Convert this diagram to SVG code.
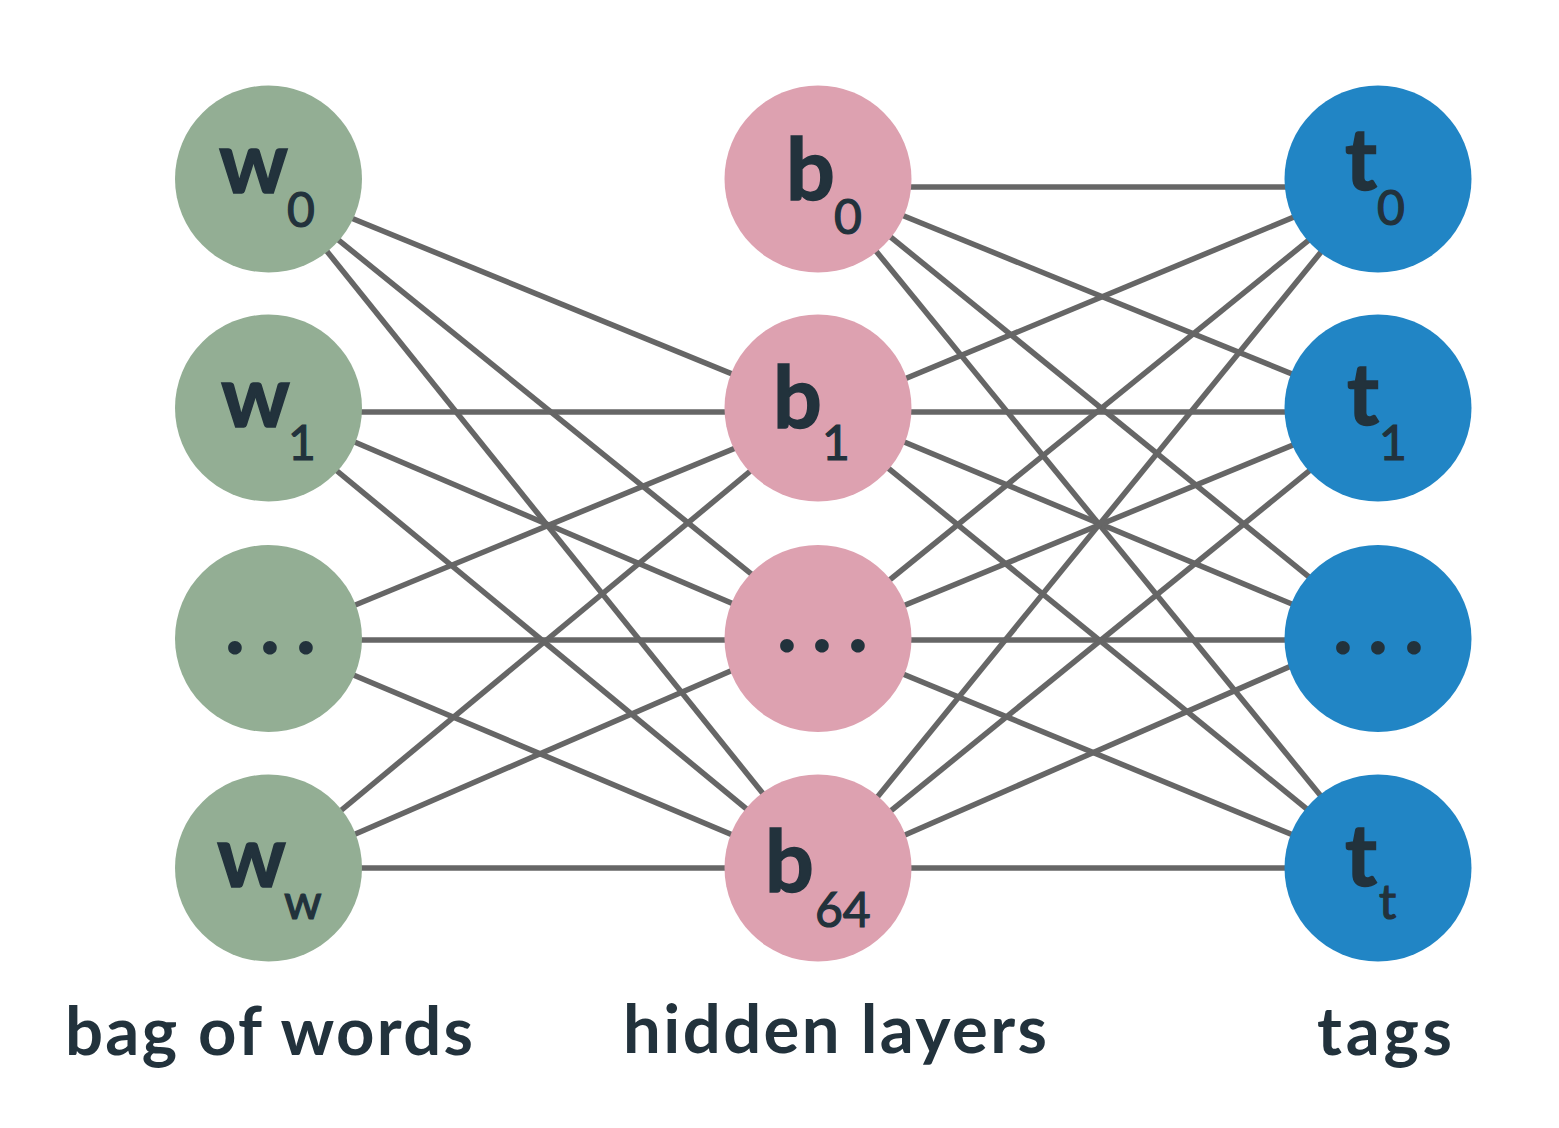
<svg xmlns="http://www.w3.org/2000/svg" width="1559" height="1128" viewBox="0 0 1559 1128">
<style>
.edge{stroke:#666666;stroke-width:5.5;fill:none}
.w{fill:#93AE94}
.b{fill:#DDA1B0}
.t{fill:#2185C5}
.main{font-family:Lato,"Liberation Sans",sans-serif;font-weight:bold;font-size:86px;fill:#22323C;stroke:#22323C;stroke-width:1.5}
.sub{font-family:Lato,"Liberation Sans",sans-serif;font-weight:normal;font-size:48px;fill:#22323C;stroke:#22323C;stroke-width:1.2}
.dots{font-family:Lato,"Liberation Sans",sans-serif;font-weight:bold;font-size:90px;fill:#22323C;text-anchor:middle}
.label{font-family:Lato,"Liberation Sans",sans-serif;font-weight:bold;font-size:67px;fill:#22323C}
</style>
<rect width="1559" height="1128" fill="#FFFFFF"/>
<g id="connectors">
<line class="edge" x1="268" y1="184" x2="818" y2="409"/>
<line class="edge" x1="268" y1="183" x2="818" y2="628"/>
<line class="edge" x1="268" y1="178" x2="818" y2="862"/>
<line class="edge" x1="268" y1="412" x2="818" y2="412"/>
<line class="edge" x1="268" y1="405" x2="818" y2="640"/>
<line class="edge" x1="268" y1="414" x2="818" y2="868"/>
<line class="edge" x1="268" y1="641" x2="818" y2="414"/>
<line class="edge" x1="268" y1="640" x2="818" y2="640"/>
<line class="edge" x1="268" y1="639" x2="818" y2="871"/>
<line class="edge" x1="268" y1="871" x2="818" y2="415"/>
<line class="edge" x1="268" y1="872" x2="818" y2="633"/>
<line class="edge" x1="268" y1="868" x2="818" y2="868"/>
<line class="edge" x1="818" y1="187" x2="1378" y2="187"/>
<line class="edge" x1="818" y1="181" x2="1378" y2="409"/>
<line class="edge" x1="818" y1="178" x2="1378" y2="633"/>
<line class="edge" x1="818" y1="180" x2="1378" y2="866"/>
<line class="edge" x1="818" y1="415" x2="1378" y2="182"/>
<line class="edge" x1="818" y1="412" x2="1378" y2="412"/>
<line class="edge" x1="818" y1="406" x2="1378" y2="640"/>
<line class="edge" x1="818" y1="411" x2="1378" y2="867"/>
<line class="edge" x1="818" y1="638" x2="1378" y2="184"/>
<line class="edge" x1="818" y1="641" x2="1378" y2="410"/>
<line class="edge" x1="818" y1="640" x2="1378" y2="640"/>
<line class="edge" x1="818" y1="639" x2="1378" y2="870"/>
<line class="edge" x1="818" y1="870" x2="1378" y2="182"/>
<line class="edge" x1="818" y1="870" x2="1378" y2="415"/>
<line class="edge" x1="818" y1="873" x2="1378" y2="628"/>
<line class="edge" x1="818" y1="868" x2="1378" y2="868"/>
</g>
<g id="w0"><circle class="w" cx="268.5" cy="179" r="93.5"/><text class="main" x="219" y="193">w</text><text class="sub" x="287" y="227">0</text></g>
<g id="w1"><circle class="w" cx="268.5" cy="408" r="93.5"/><text class="main" x="221" y="427">w</text><text class="sub" x="288" y="460">1</text></g>
<g id="w_dots"><circle class="w" cx="268.5" cy="638.5" r="93.5"/><text class="dots" x="235 270 306" y="654">...</text></g>
<g id="ww"><circle class="w" cx="268.5" cy="868" r="93.5"/><text class="main" x="217" y="887">w</text><text class="sub" x="284" y="919">w</text></g>
<g id="b0"><circle class="b" cx="818" cy="179" r="93.5"/><text class="main" x="786" y="200">b</text><text class="sub" x="834" y="234">0</text></g>
<g id="b1"><circle class="b" cx="818" cy="408" r="93.5"/><text class="main" x="773" y="428">b</text><text class="sub" x="822" y="460">1</text></g>
<g id="b_dots"><circle class="b" cx="818" cy="638.5" r="93.5"/><text class="dots" x="787 822 858" y="652">...</text></g>
<g id="b64"><circle class="b" cx="818" cy="868" r="93.5"/><text class="main" x="765" y="892">b</text><text class="sub" x="815" y="927">64</text></g>
<g id="t0"><circle class="t" cx="1378" cy="179" r="93.5"/><text class="main" x="1345" y="190">t</text><text class="sub" x="1377" y="225">0</text></g>
<g id="t1"><circle class="t" cx="1378" cy="408" r="93.5"/><text class="main" x="1347" y="425">t</text><text class="sub" x="1379" y="460">1</text></g>
<g id="t_dots"><circle class="t" cx="1378" cy="638.5" r="93.5"/><text class="dots" x="1343 1378 1414" y="654">...</text></g>
<g id="tt"><circle class="t" cx="1378" cy="868" r="93.5"/><text class="main" x="1345" y="886">t</text><text class="sub" x="1379" y="919">t</text></g>
<g id="labels">
<text class="label" x="65" y="1055" textLength="408" lengthAdjust="spacing">bag of words</text>
<text class="label" x="623" y="1053" textLength="424" lengthAdjust="spacing">hidden layers</text>
<text class="label" x="1317" y="1055" textLength="135" lengthAdjust="spacing">tags</text>
</g>
</svg>
